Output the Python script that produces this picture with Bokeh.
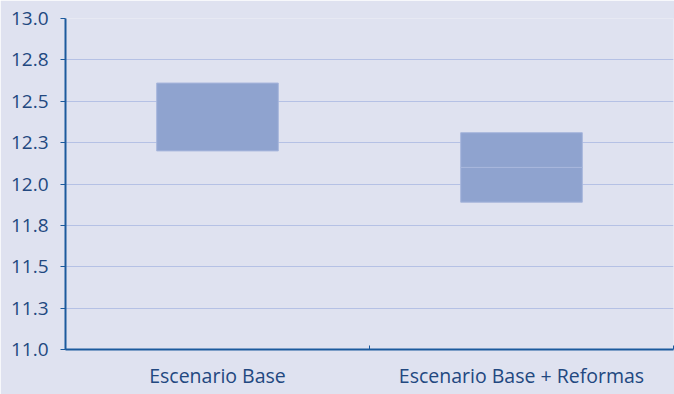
from bokeh.plotting import figure
from bokeh.models import Range1d, FixedTicker, ColumnDataSource
from bokeh.embed import file_html
from bokeh.resources import INLINE

categories = ["Escenario Base", "Escenario Base + Reformas"]
range_low = [12.20, 11.89]
range_high = [12.61, 12.31]
range_mid = [float("nan"), 12.10]

y_ticks = [11.0, 11.25, 11.5, 11.75, 12.0, 12.25, 12.5, 12.75, 13.0]
y_tick_labels = ["11.0", "11.3", "11.5", "11.8", "12.0", "12.3", "12.5", "12.8", "13.0"]

BG = "#DFE2F0"
BAR = "#8FA3CF"
BAR_EDGE = "#A7B6DC"
GRID = "#B5C1E5"
AXIS = "#1C5A9D"
TEXT = "#224880"
FONT = "Open Sans"

xs = [i + 0.5 for i in range(len(categories))]
src = ColumnDataSource(dict(x=xs, low=range_low, high=range_high, mid=range_mid))

p = figure(width=674, height=394, output_backend="svg", toolbar_location=None,
           x_range=Range1d(0, len(categories)), y_range=Range1d(11, 13))
p.background_fill_color = BG
p.border_fill_color = BG
p.outline_line_color = None
p.min_border_left = 65
p.min_border_right = 1
p.min_border_top = 18
p.min_border_bottom = 45

p.vbar(x="x", width=0.4, bottom="low", top="high", source=src,
       fill_color=BAR, line_color=BAR_EDGE, line_width=1)
p.vbar(x="x", width=0.4, bottom="mid", top="mid", source=src,
       fill_color=None, line_color=BAR_EDGE, line_width=1)

# y axis
p.yaxis.ticker = FixedTicker(ticks=y_ticks)
p.yaxis.major_label_overrides = {t: l for t, l in zip(y_ticks, y_tick_labels)}
p.yaxis.axis_line_color = AXIS
p.yaxis.axis_line_width = 2
p.yaxis.major_tick_line_color = AXIS
p.yaxis.major_tick_in = 0
p.yaxis.major_tick_out = 5
p.yaxis.minor_tick_line_color = None
p.yaxis.major_label_standoff = 12
p.yaxis.major_label_text_font = FONT
p.yaxis.major_label_text_font_size = "19px"
p.yaxis.major_label_text_color = TEXT

# x axis
p.xaxis.ticker = FixedTicker(ticks=xs, minor_ticks=list(range(len(categories) + 1)))
p.xaxis.major_label_overrides = {x: c for x, c in zip(xs, categories)}
p.xaxis.axis_line_color = AXIS
p.xaxis.axis_line_width = 2
p.xaxis.major_tick_line_color = None
p.xaxis.major_tick_in = 0
p.xaxis.major_tick_out = 0
p.xaxis.minor_tick_line_color = AXIS
p.xaxis.minor_tick_in = 4
p.xaxis.minor_tick_out = 0
p.xaxis.major_label_standoff = 12
p.xaxis.major_label_text_font = FONT
p.xaxis.major_label_text_font_size = "19.5px"
p.xaxis.major_label_text_color = TEXT

p.xgrid.grid_line_color = None
p.ygrid.grid_line_color = GRID
p.ygrid.grid_line_width = 1

open("out.html", "w").write(file_html(p, INLINE))
